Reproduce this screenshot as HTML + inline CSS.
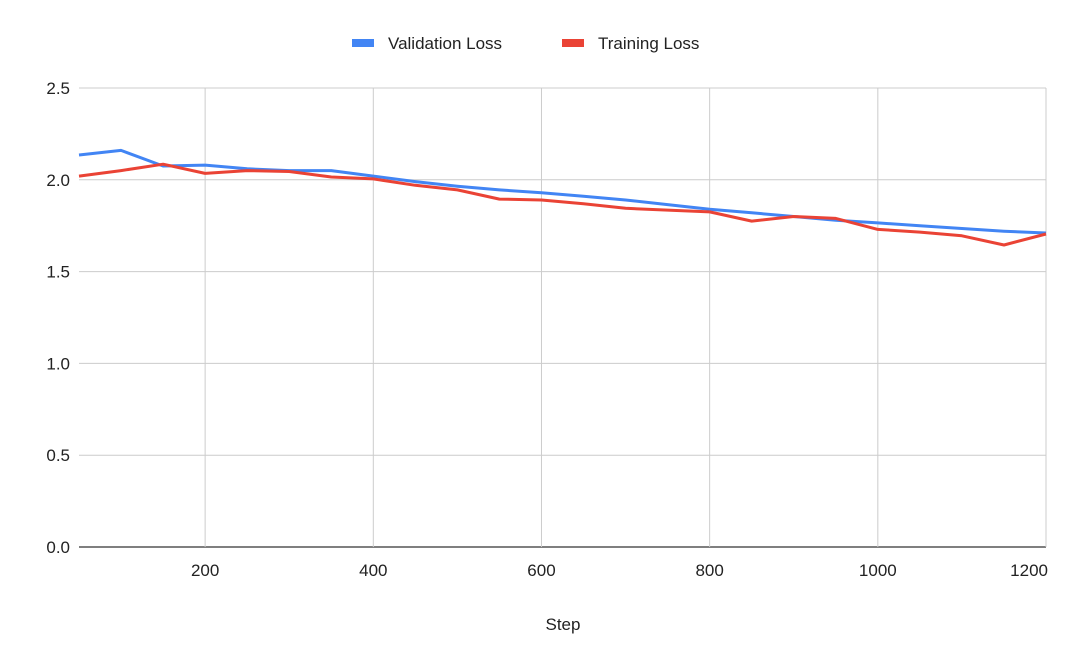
<!DOCTYPE html>
<html><head><meta charset="utf-8"><style>
html,body{margin:0;padding:0;background:#fff;}
svg{display:block;font-family:"Liberation Sans",Arial,sans-serif;}
</style></head><body>
<svg id="chart" width="1080" height="668" viewBox="0 0 1080 668">
<g id="grid"></g>
<g id="yticks"></g>
<g id="xticks"></g>
<g id="series"></g>
<g>
<g>
<rect x="352" y="39" width="22" height="8" fill="#4285f4"/>
<text x="388" y="49" font-size="17" fill="#222">Validation Loss</text></g>
<g>
<rect x="562" y="39" width="22" height="8" fill="#ea4335"/>
<text x="598" y="49" font-size="17" fill="#222">Training Loss</text></g>
</g>
<text x="563" y="630" font-size="17" fill="#222" text-anchor="middle">Step</text>
</svg>
<script>
const steps=[50,100,150,200,250,300,350,400,450,500,550,600,650,700,750,800,850,900,950,1000,1050,1100,1150,1200];
const validationLoss=[2.135,2.16,2.075,2.08,2.06,2.05,2.05,2.02,1.99,1.965,1.945,1.93,1.91,1.89,1.865,1.84,1.82,1.80,1.78,1.765,1.75,1.735,1.72,1.71];
const trainingLoss=[2.02,2.05,2.085,2.035,2.05,2.045,2.015,2.005,1.97,1.945,1.895,1.89,1.87,1.845,1.835,1.825,1.775,1.80,1.79,1.73,1.715,1.695,1.645,1.705];
const xTicks=[200,400,600,800,1000,1200];
const yTicks=[0,0.5,1.0,1.5,2.0,2.5];
const NS="http://www.w3.org/2000/svg";
const X0=79,X1=1046,Y0=547,Y1=88;
function xs(v){return X0+(v-50)/(1200-50)*(X1-X0);}
function ys(v){return Y0-v/2.5*(Y0-Y1);}
function mk(tag,attrs,parent){const e=document.createElementNS(NS,tag);for(const k in attrs)e.setAttribute(k,attrs[k]);parent.appendChild(e);return e;}
const grid=document.getElementById('grid'),yt=document.getElementById('yticks'),xt=document.getElementById('xticks'),ser=document.getElementById('series');
yTicks.forEach(v=>{
 const l=mk('line',{x1:X0,x2:X1,y1:ys(v),y2:ys(v),stroke:v===0?'#333':'#ccc','stroke-width':v===0?1.3:1},grid);
 
 
 const t=mk('text',{x:70,y:ys(v)+6,'font-size':17,fill:'#222','text-anchor':'end'},yt);
 t.textContent=v.toFixed(1);
 
 
});
xTicks.forEach(v=>{
 const l=mk('line',{x1:xs(v),x2:xs(v),y1:Y1,y2:Y0,stroke:'#ccc','stroke-width':1},grid);
 
 
 const t=mk('text',{x:xs(v),y:576,'font-size':17,fill:'#222','text-anchor':v===1200?'end':'middle'},xt);
 if(v===1200)t.setAttribute('x',X1+2);
 t.textContent=v;
 
 
});
function line(vals,color,name){
 const d=vals.map((v,i)=>(i?'L':'M')+xs(steps[i]).toFixed(1)+','+ys(v).toFixed(1)).join(' ');
 const p=mk('path',{d:d,fill:'none',stroke:color,'stroke-width':3,'stroke-linejoin':'round'},ser);
 
 
}
line(validationLoss,'#4285f4','validation-loss-line');
line(trainingLoss,'#ea4335','training-loss-line');
</script>
</body></html>
